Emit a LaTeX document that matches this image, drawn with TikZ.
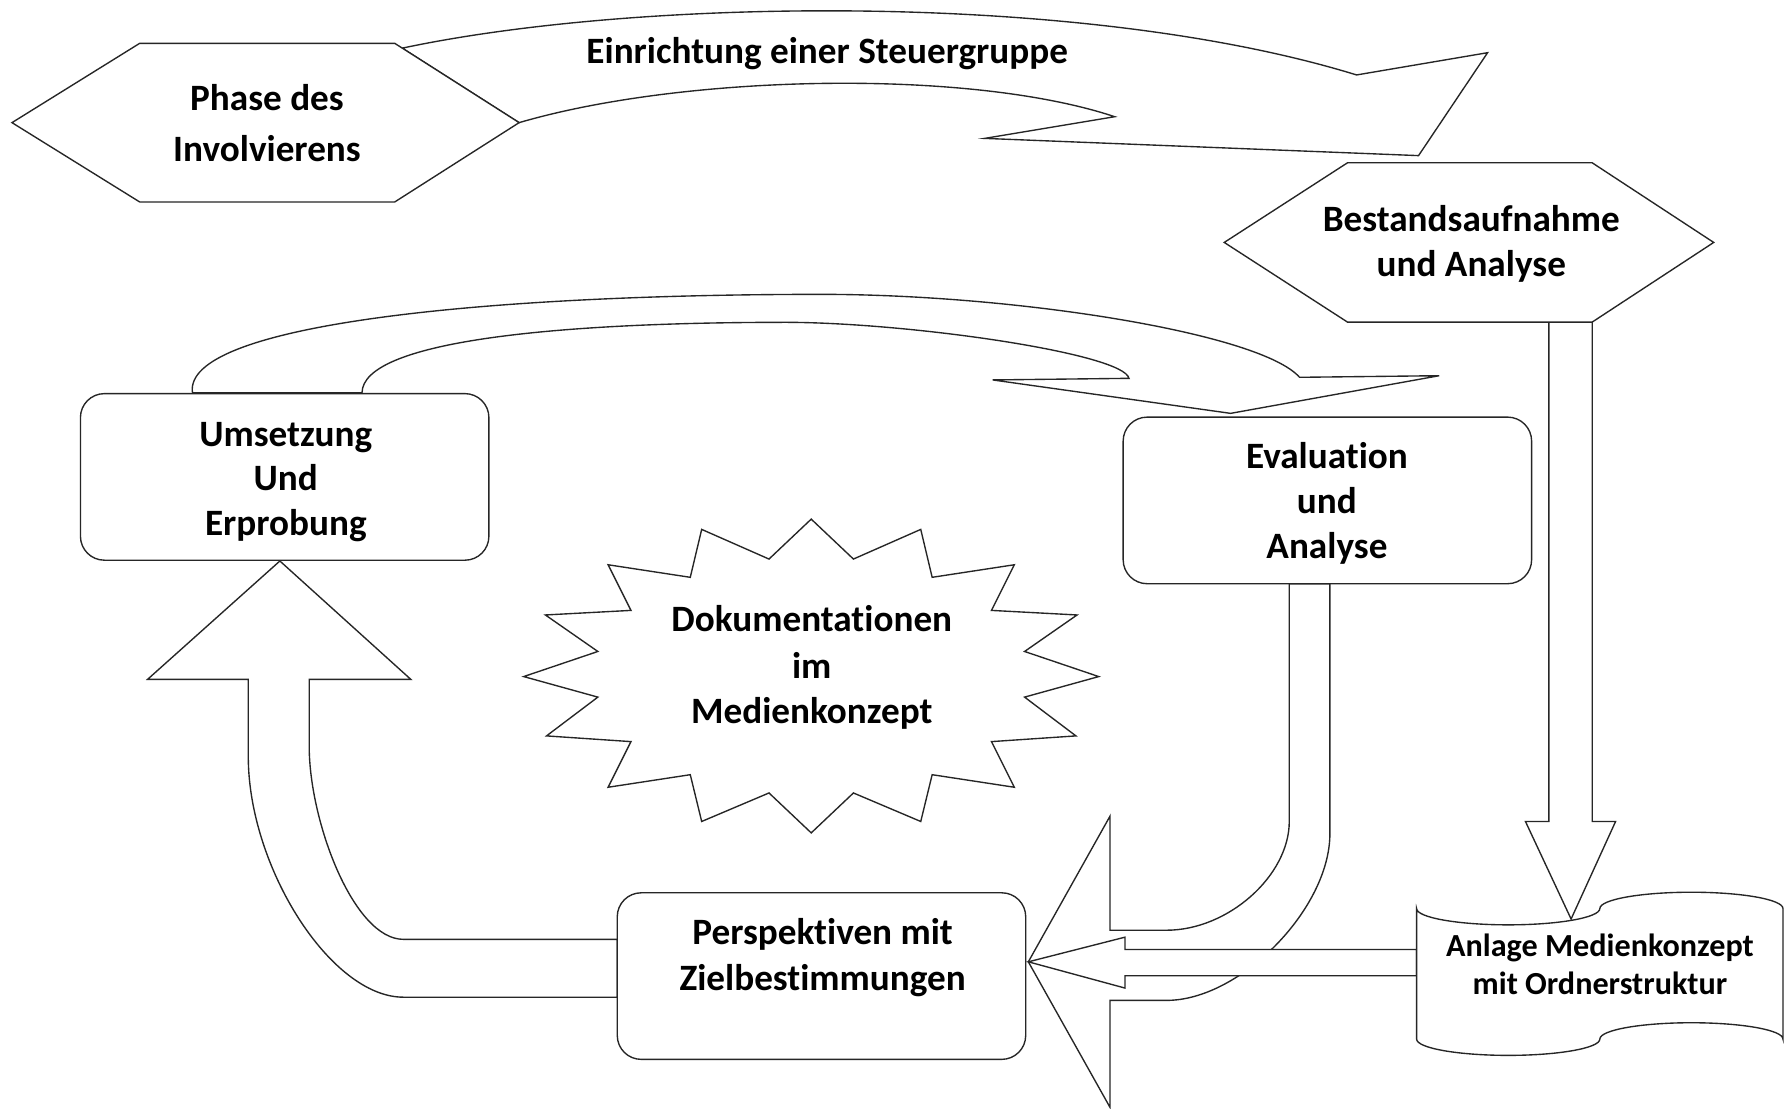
\documentclass[tikz,border=0pt]{standalone}
\usepackage{fontspec}
\setmainfont{Carlito}[Ligatures={NoCommon}]
\begin{document}
\begin{tikzpicture}[x=0.5pt,y=-0.5pt,
  outline/.style={draw=black!85, line width=0.6pt, fill=white, line join=miter},
  box/.style={outline, rounded corners=10.5pt, minimum width=179pt, minimum height=73pt, inner sep=0pt},
  lbl/.style={font=\fontsize{16.3}{19}\selectfont\bfseries, anchor=base, inner sep=0pt},
  lblsmall/.style={font=\fontsize{14.1}{17}\selectfont\bfseries, anchor=base, inner sep=0pt}]

% page
\fill[white] (0,0) rectangle (1568,972);
\useasboundingbox (0,0) rectangle (1568,972);

% corner points of the two hexagons
\coordinate (ph-w) at (10.5,107.5);  \coordinate (ph-nw) at (122.4,38);
\coordinate (ph-ne) at (346,38);     \coordinate (ph-e) at (455,107.5);
\coordinate (ph-se) at (346,177);    \coordinate (ph-sw) at (122.4,177);
\coordinate (ba-w) at (1073,212.5);  \coordinate (ba-nw) at (1181,142.7);
\coordinate (ba-ne) at (1395.5,142.7); \coordinate (ba-e) at (1502,212.5);
\coordinate (ba-se) at (1395.5,282.3); \coordinate (ba-sw) at (1181,282.3);

% curved arrow: Steuergruppe
\draw[outline] (352.6,42.2) .. controls (560,-2) and (950,-8) .. (1189,65.7)
  -- (1303.8,46.2) -- (1243.3,136.4) -- (863,121.3) -- (977,102.3)
  .. controls (850,60) and (600,65) .. (ph-e) -- cycle;

% hexagon: Phase des Involvierens
\draw[outline] (ph-w) -- (ph-nw) -- (ph-ne) -- (ph-e) -- (ph-se) -- (ph-sw) -- cycle;
\node[lbl] (phase-a) at (234,96.5) {Phase des};
\node[lbl] (phase-b) at (234,141.5) {Involvierens};
\node[lbl] (steuer) at (725,56) {Einrichtung einer Steuergruppe};

% block arrow down to the Anlage
\draw[outline] (1357.5,282.3) -- (1357.5,720) -- (1337,720) -- (1377,805.5)
  -- (1416,720) -- (ba-se |- 0,720) -- (ba-se) -- cycle;

% hexagon: Bestandsaufnahme
\draw[outline] (ba-w) -- (ba-nw) -- (ba-ne) -- (ba-e) -- (ba-se) -- (ba-sw) -- cycle;
\node[lbl] (bestand-a) at (1289.5,202.5) {Bestandsaufnahme};
\node[lbl] (bestand-b) at (1289.5,242.5) {und Analyse};

% curved arrow from Umsetzung to Evaluation
\draw[outline] (168.7,344.2) .. controls (160,285) and (420,258) .. (720,258)
  .. controls (890,258) and (1105,292) .. (1139,330.7)
  -- (1261.4,329.3) -- (1078.6,362.3) -- (870,333) -- (989.5,331.6)
  .. controls (985,310) and (800,283) .. (690,282.5)
  .. controls (480,282.5) and (318,300) .. (317.3,344.2) -- cycle;

% rounded boxes
\node[box] (umsetzung) at (249.5,418) {};
\node[box] (evaluation) at (1163.4,438.6) {};

\node[lbl] (ums-a) at (250.5,391.5) {Umsetzung};
\node[lbl] (ums-b) at (250.5,430) {Und};
\node[lbl] (ums-c) at (250.5,469.5) {Erprobung};

\node[lbl] (eval-a) at (1163,410.5) {Evaluation};
\node[lbl] (eval-b) at (1163,450) {und};
\node[lbl] (eval-c) at (1163,489.5) {Analyse};

% starburst
\begin{scope}[shift={(711,592.5)}]
\draw[outline] (0,-137.5) -- (37,-102.5) -- (96,-128.5) -- (106,-86.5)
  -- (178,-97.5) -- (158,-57.5) -- (233,-53.5) -- (187,-21.5)
  -- (252,0.5) -- (187,18.5) -- (232,52.5) -- (158,57.5)
  -- (178,97.5) -- (106,86.5) -- (96,127.5) -- (37,102.5)
  -- (0,137.5) -- (-37,102.5) -- (-96,127.5) -- (-106,86.5)
  -- (-178,97.5) -- (-158,57.5) -- (-232,52.5) -- (-187,18.5)
  -- (-252,0.5) -- (-187,-21.5) -- (-233,-53.5) -- (-158,-57.5)
  -- (-178,-97.5) -- (-106,-86.5) -- (-96,-128.5) -- (-37,-102.5) -- cycle;
\end{scope}
\node[lbl] (doku-a) at (711.5,553.6) {Dokumentationen};
\node[lbl] (doku-b) at (711.5,594.5) {im};
\node[lbl] (doku-c) at (711.5,634) {Medienkonzept};

% bent arrow from Evaluation down to Perspektiven
\draw[outline] (1130,511.7) -- (1130,719.9)
  .. controls (1130,767.6) and (1076.3,815.3) .. (1022.5,815.3)
  -- (972.9,815.3) -- (972.9,715.3) -- (901.3,843) -- (972.9,970.6)
  -- (972.9,876.8) -- (1022.5,876.8)
  .. controls (1086.9,876.8) and (1165.6,796.4) .. (1165.6,730.7)
  -- (1165.6,511.7) -- cycle;

% straight arrow from the Anlage to Perspektiven
\draw[outline] (1241.6,832.2) -- (986,832.2) -- (986,821.4) -- (901.3,843)
  -- (986,866) -- (986,855.2) -- (1241.6,855.2) -- cycle;

% bent arrow from Perspektiven up to Umsetzung
\draw[outline] (541,823.3) -- (353.5,823.3)
  .. controls (310,823.3) and (271,720) .. (271,654)
  -- (271,595.4) -- (360,595.4) -- (245.3,491.7) -- (129.4,595.4)
  -- (217.6,595.4) -- (217.6,663)
  .. controls (217.6,760) and (290,874) .. (353.5,874)
  -- (541,874) -- cycle;

% box: Perspektiven
\node[box] (perspektiven) at (720,855.5) {};
\node[lbl] (persp-a) at (721,828.2) {Perspektiven mit};
\node[lbl] (persp-b) at (721,867.7) {Zielbestimmungen};

% punched tape shape: Anlage
\draw[outline] (1241.6,796.3)
  .. controls (1241.6,804.2) and (1277.6,810.6) .. (1321.9,810.6)
  .. controls (1366.2,810.6) and (1402.2,804.2) .. (1402.2,796.3)
  .. controls (1402.2,788.4) and (1438.1,782) .. (1482.4,782)
  .. controls (1526.7,782) and (1562.7,788.4) .. (1562.7,796.3)
  -- (1562.7,910.7)
  .. controls (1562.7,902.8) and (1526.7,896.4) .. (1482.4,896.4)
  .. controls (1438.1,896.4) and (1402.2,902.8) .. (1402.2,910.7)
  .. controls (1402.2,918.6) and (1366.2,925) .. (1321.9,925)
  .. controls (1277.6,925) and (1241.6,918.6) .. (1241.6,910.7) -- cycle;
\node[lblsmall] (anlage-a) at (1402.3,838.5) {Anlage Medienkonzept};
\node[lblsmall] (anlage-b) at (1402.3,872) {mit Ordnerstruktur};

\end{tikzpicture}
\end{document}
